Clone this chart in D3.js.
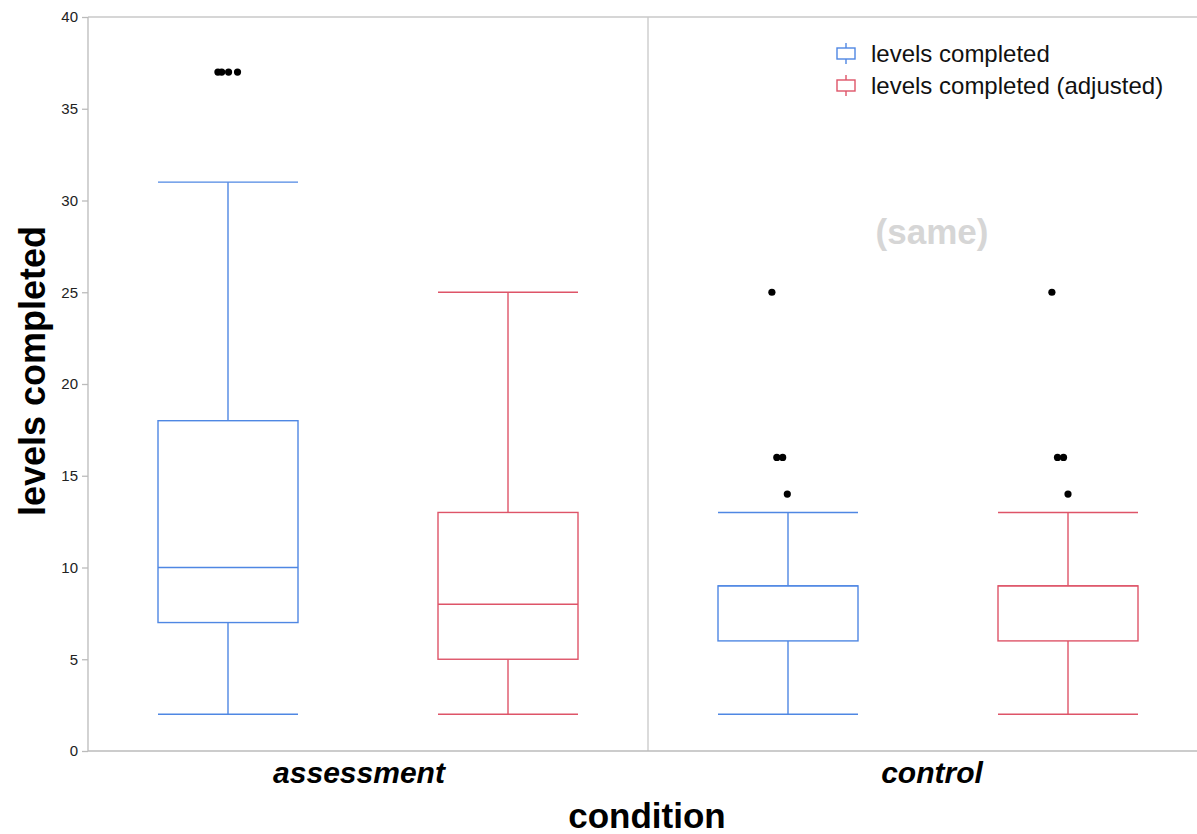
<!DOCTYPE html>
<html><head><meta charset="utf-8">
<script src="https://cdn.jsdelivr.net/npm/d3@7"></script>
<style>body{margin:0;background:#fff;} svg{display:block;font-family:"Liberation Sans",Arial,Helvetica,sans-serif;}</style>
</head><body>
<script>
const conditions = ["assessment", "control"];
const seriesNames = ["levels completed", "levels completed (adjusted)"];
const seriesColors = ["#4f87e3", "#de5468"];
// five-number summaries per condition, per series: [min, q1, median, q3, max]
const assessmentStats = [[2, 7, 10, 18, 31], [2, 5, 8, 13, 25]];
const controlStats = [[2, 6, 9, 9, 13], [2, 6, 9, 9, 13]];
// outliers [value, jitter as fraction of box width]
const assessmentOutliers = [[[37, -0.072], [37, -0.045], [37, 0.004], [37, 0.068]], []];
const controlOutliers = [
  [[25, -0.115], [16, -0.08], [16, -0.038], [14, -0.005]],
  [[25, -0.115], [16, -0.075], [16, -0.032], [14, 0.0]]
];
const yTicks = [0, 5, 10, 15, 20, 25, 30, 35, 40];

(function () {
const W = 1197, H = 834;
const svg = d3.select("body").append("svg").attr("width", W).attr("height", H);
const mLeft = 88, panelW = 560, mTop = 17, mBottom = 751;

const x = d3.scaleBand().domain(conditions).range([mLeft, mLeft + panelW * 2]).padding(0);
const xs = d3.scaleBand().domain(seriesNames).range([0, panelW]).paddingInner(0.5).paddingOuter(0.25);
const y = d3.scaleLinear().domain([0, 40]).range([mBottom, mTop]);

svg.append("line").attr("x1", mLeft).attr("x2", W).attr("y1", mTop).attr("y2", mTop).attr("stroke", "#c8c8c8").attr("stroke-width", 1.3);
svg.append("line").attr("x1", x("control")).attr("x2", x("control")).attr("y1", mTop).attr("y2", mBottom).attr("stroke", "#c8c8c8").attr("stroke-width", 1.3);

const yAxis = d3.axisLeft(y).tickValues(yTicks).tickSize(6).tickPadding(4);
const ga = svg.append("g").attr("transform", `translate(${mLeft},0)`).call(yAxis);
ga.select(".domain").attr("stroke", "#bbb").attr("stroke-width", 1.3).attr("d", `M0,${mBottom}V${mTop}`);
ga.selectAll(".tick line").attr("stroke", "#bbb").attr("stroke-width", 1.3);
ga.selectAll(".tick text").attr("fill", "#222").style("font-size", "15px").style("font-family", "Liberation Sans, Arial, sans-serif");

svg.append("line").attr("x1", mLeft).attr("x2", W).attr("y1", mBottom).attr("y2", mBottom).attr("stroke", "#bbb").attr("stroke-width", 1.3);

const statsByCond = {assessment: assessmentStats, control: controlStats};
const outByCond = {assessment: assessmentOutliers, control: controlOutliers};

conditions.forEach(c => {
  seriesNames.forEach((s, i) => {
    const st = statsByCond[c][i];
    const x0 = x(c) + xs(s), bw = xs.bandwidth(), cx = x0 + bw / 2;
    const g = svg.append("g").attr("stroke", seriesColors[i]).attr("stroke-width", 1.4).attr("fill", "none");
    g.append("line").attr("x1", cx).attr("x2", cx).attr("y1", y(st[0])).attr("y2", y(st[1]));
    g.append("line").attr("x1", cx).attr("x2", cx).attr("y1", y(st[3])).attr("y2", y(st[4]));
    g.append("line").attr("x1", x0).attr("x2", x0 + bw).attr("y1", y(st[0])).attr("y2", y(st[0]));
    g.append("line").attr("x1", x0).attr("x2", x0 + bw).attr("y1", y(st[4])).attr("y2", y(st[4]));
    g.append("rect").attr("x", x0).attr("y", y(st[3])).attr("width", bw).attr("height", y(st[1]) - y(st[3]));
    g.append("line").attr("x1", x0).attr("x2", x0 + bw).attr("y1", y(st[2])).attr("y2", y(st[2]));
    svg.append("g").selectAll("circle").data(outByCond[c][i]).join("circle")
      .attr("cx", d => cx + d[1] * bw).attr("cy", d => y(d[0])).attr("r", 3.6).attr("fill", "#000");
  });
});

svg.selectAll(".cat").data(conditions).join("text")
  .attr("x", (d, i) => x(d) + x.bandwidth() / 2 + (i === 0 ? -9 : 4)).attr("y", 783)
  .attr("text-anchor", "middle").style("font-size", "30px").style("font-weight", "bold").style("font-style", "italic")
  .attr("fill", "#000").text(d => d);

svg.append("text").attr("x", 647).attr("y", 828).attr("text-anchor", "middle")
  .style("font-size", "35px").style("font-weight", "bold").text("condition");
svg.append("text").attr("transform", "translate(45,371) rotate(-90)").attr("text-anchor", "middle")
  .style("font-size", "36px").style("font-weight", "bold").text("levels completed");

svg.append("text").attr("x", 932).attr("y", 244).attr("text-anchor", "middle")
  .style("font-size", "35px").style("font-weight", "bold").attr("fill", "#d6d6d6").text("(same)");

const lg = svg.append("g");
seriesNames.forEach((s, i) => {
  const ly = 53 + i * 32;
  const gg = lg.append("g").attr("stroke", seriesColors[i]).attr("stroke-width", 1.4).attr("fill", "none");
  gg.append("line").attr("x1", 846).attr("x2", 846).attr("y1", ly - 10).attr("y2", ly + 11);
  gg.append("rect").attr("x", 837).attr("y", ly - 5).attr("width", 18).attr("height", 11).attr("fill", "#fff");
  lg.append("text").attr("x", 871).attr("y", ly + 9).style("font-size", "24px").attr("fill", "#111").text(s);
});
})();
</script>
</body></html>
